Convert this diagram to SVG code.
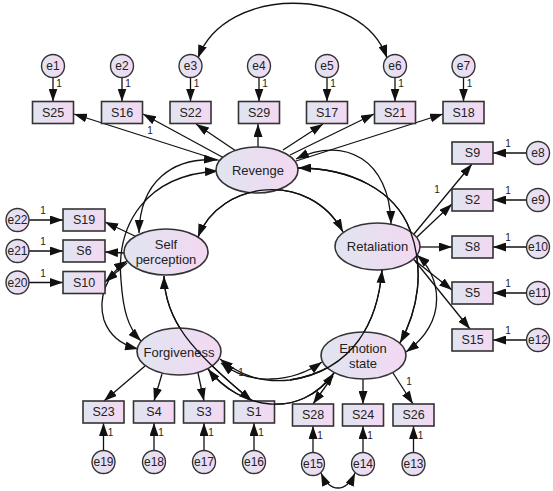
<svg xmlns="http://www.w3.org/2000/svg" width="553" height="491" viewBox="0 0 553 491">
<defs>
<linearGradient id="g" x1="0" y1="0" x2="1" y2="0">
<stop offset="0" stop-color="#e0e5f0"/>
<stop offset="1" stop-color="#f3d8f2"/>
</linearGradient>
<marker id="ah" viewBox="0 0 13 9" refX="13" refY="4.5" markerWidth="13" markerHeight="9" markerUnits="userSpaceOnUse" orient="auto-start-reverse">
<path d="M0,0 L13,4.5 L0,9 z" fill="#111"/>
</marker>
<style>
.box{fill:url(#g);stroke:#333;stroke-width:1.6}
.lat{fill:url(#g);stroke:#333;stroke-width:1.6}
.err{fill:url(#g);stroke:#333;stroke-width:1.4}
.t{font-family:"Liberation Sans",Arial,sans-serif;font-size:12.5px;fill:#222;text-anchor:middle;dominant-baseline:central}
.tl{font-family:"Liberation Sans",Arial,sans-serif;font-size:13px;fill:#222;text-anchor:middle;dominant-baseline:central}
.te{font-family:"Liberation Sans",Arial,sans-serif;font-size:12px;fill:#222;text-anchor:middle;dominant-baseline:central}
.one{font-family:"Liberation Sans",Arial,sans-serif;font-size:10px;fill:#222;text-anchor:middle}
.p{stroke:#111;stroke-width:1.3;fill:none;marker-end:url(#ah)}
.q{stroke:#111;stroke-width:1.3;fill:none}
.c{stroke:#111;stroke-width:1.3;fill:none;marker-start:url(#ah);marker-end:url(#ah)}
</style>
</defs>

<g id="connectors">
<!-- covariances -->
<path class="c" d="M198,58 C225,-15 362,-15 387,58"/>
<path class="c" d="M321,473 C330,493 346,493 355,473"/>
<path class="c" d="M217,160 C172,157 140,182 139,233"/>
<path class="c" d="M218,171 C145,175 116,225 121,280 C123,310 128,328 141,341"/>
<path class="c" d="M127,261 C105,275 98,300 104,320 C110,337 122,345 138,349"/>
<path class="c" d="M198,237 C220,180 310,170 343,232"/>
<path class="c" d="M296,159 C345,135 390,160 391,224"/>
<path class="c" d="M298,168 C350,168 395,190 410,230 C425,270 418,310 400,343"/>
<path class="c" d="M417,255 C440,275 450,320 406,352"/>
<path class="c" d="M382,270 C378,320 355,370 290,380 C260,383 240,375 220,359"/>
<path class="c" d="M221,363 C250,386 292,383 322,362"/>
<path class="c" d="M208,369 C240,410 300,420 334,373"/>
<path class="c" d="M164,276 C165,320 190,350 252,401"/>
<!-- Revenge paths -->
<line class="p" x1="221" y1="161" x2="74" y2="114"/>
<line class="p" x1="224" y1="158" x2="143" y2="114"/>
<line class="p" x1="236" y1="151" x2="196" y2="124"/>
<line class="p" x1="258" y1="147" x2="258" y2="124"/>
<line class="p" x1="283" y1="150" x2="323" y2="124"/>
<line class="p" x1="290" y1="155" x2="374" y2="114"/>
<line class="p" x1="296" y1="161" x2="443" y2="114"/>
<!-- Self perception paths -->
<line class="p" x1="137" y1="237" x2="105" y2="222"/>
<line class="p" x1="124" y1="253" x2="105" y2="252"/>
<line class="p" x1="127" y1="263" x2="105" y2="282"/>
<!-- Retaliation paths -->
<line class="p" x1="414" y1="234" x2="472" y2="164"/>
<line class="p" x1="417" y1="237" x2="452" y2="204"/>
<line class="p" x1="420" y1="247" x2="452" y2="247"/>
<line class="p" x1="413" y1="259" x2="452" y2="290"/>
<line class="p" x1="415" y1="261" x2="470" y2="329"/>
<!-- Forgiveness paths -->
<line class="p" x1="145" y1="366" x2="104" y2="401"/>
<line class="p" x1="162" y1="374" x2="154" y2="401"/>
<line class="p" x1="198" y1="373" x2="204" y2="401"/>
<!-- Emotion state paths -->
<line class="p" x1="333" y1="376" x2="313" y2="404"/>
<line class="p" x1="363" y1="379" x2="363" y2="404"/>
<line class="p" x1="393" y1="373" x2="413" y2="404"/>
<!-- error paths top -->
<line class="p" x1="53" y1="77.5" x2="53" y2="101.5"/>
<line class="p" x1="122" y1="77.5" x2="122" y2="101.5"/>
<line class="p" x1="190.5" y1="77.5" x2="190.5" y2="101.5"/>
<line class="p" x1="259" y1="77.5" x2="259" y2="101.5"/>
<line class="p" x1="327" y1="77.5" x2="327" y2="101.5"/>
<line class="p" x1="395" y1="77.5" x2="395" y2="101.5"/>
<line class="p" x1="463.5" y1="77.5" x2="463.5" y2="101.5"/>
<!-- error paths left -->
<line class="p" x1="29" y1="220" x2="63" y2="220"/>
<line class="p" x1="29" y1="251" x2="63" y2="251"/>
<line class="p" x1="29" y1="282.5" x2="63" y2="282.5"/>
<!-- error paths right -->
<line class="p" x1="526.5" y1="153" x2="493" y2="153"/>
<line class="p" x1="526.5" y1="200" x2="493" y2="200"/>
<line class="p" x1="526.5" y1="247" x2="493" y2="247"/>
<line class="p" x1="526.5" y1="293" x2="493" y2="293"/>
<line class="p" x1="526.5" y1="340" x2="493" y2="340"/>
<!-- error paths bottom -->
<line class="p" x1="103.5" y1="450.5" x2="103.5" y2="423"/>
<line class="p" x1="154" y1="450.5" x2="154" y2="423"/>
<line class="p" x1="204" y1="450.5" x2="204" y2="423"/>
<line class="p" x1="254" y1="450.5" x2="254" y2="423"/>
<line class="p" x1="313" y1="452.5" x2="313" y2="426"/>
<line class="p" x1="363" y1="452.5" x2="363" y2="426"/>
<line class="p" x1="413.5" y1="452.5" x2="413.5" y2="426"/>
<!-- weight labels -->
<text class="one" x="150" y="134">1</text>
<text class="one" x="437" y="193">1</text>
<text class="one" x="241" y="376">1</text>
<text class="one" x="409" y="385">1</text>
<text class="one" x="59" y="87">1</text>
<text class="one" x="128" y="87">1</text>
<text class="one" x="196.5" y="87">1</text>
<text class="one" x="265" y="87">1</text>
<text class="one" x="333" y="87">1</text>
<text class="one" x="401" y="87">1</text>
<text class="one" x="469.5" y="87">1</text>
<text class="one" x="43" y="214">1</text>
<text class="one" x="43" y="245">1</text>
<text class="one" x="43" y="276.5">1</text>
<text class="one" x="508" y="147">1</text>
<text class="one" x="508" y="194">1</text>
<text class="one" x="508" y="241">1</text>
<text class="one" x="508" y="287">1</text>
<text class="one" x="508" y="334">1</text>
<text class="one" x="110.5" y="436">1</text>
<text class="one" x="161" y="436">1</text>
<text class="one" x="211" y="436">1</text>
<text class="one" x="261" y="436">1</text>
<text class="one" x="320" y="439">1</text>
<text class="one" x="370" y="439">1</text>
<text class="one" x="420.5" y="439">1</text>
</g>

<!-- latent variables -->
<g id="Revenge"><ellipse class="lat" cx="257" cy="170" rx="41" ry="23"/><text class="tl" x="258" y="170">Revenge</text></g>
<g id="SelfPerception"><ellipse class="lat" cx="166" cy="252" rx="42" ry="23"/><text class="tl" x="166" y="244">Self</text><text class="tl" x="166" y="259">perception</text></g>
<g id="Retaliation"><ellipse class="lat" cx="377.5" cy="246.5" rx="42.5" ry="23.5"/><text class="tl" x="377.5" y="246.5">Retaliation</text></g>
<g id="Forgiveness"><ellipse class="lat" cx="179" cy="351.5" rx="42" ry="23.5"/><text class="tl" x="179" y="352">Forgiveness</text></g>
<g id="EmotionState"><ellipse class="lat" cx="363.5" cy="355.5" rx="42.5" ry="23.5"/><text class="tl" x="363" y="348.5">Emotion</text><text class="tl" x="363" y="363">state</text></g>

<!-- crossing lines drawn over ellipses -->
<g id="overlay">
<path class="q" d="M198,237 C220,180 310,170 343,232"/>
<path class="q" d="M298,168 C350,168 395,190 410,230 C425,270 418,310 400,343"/>
<path class="q" d="M382,270 C378,320 355,370 290,380"/>
<path class="q" d="M164,276 C165,320 190,350 252,401"/>
</g>

<!-- indicators -->
<g id="S25"><rect class="box" x="32.5" y="101.5" width="41" height="22"/><text class="t" x="53" y="112.5">S25</text></g>
<g id="S16"><rect class="box" x="101.5" y="101.5" width="41" height="22"/><text class="t" x="122" y="112.5">S16</text></g>
<g id="S22"><rect class="box" x="170" y="101.5" width="41" height="22"/><text class="t" x="190.5" y="112.5">S22</text></g>
<g id="S29"><rect class="box" x="238.5" y="101.5" width="41" height="22"/><text class="t" x="259" y="112.5">S29</text></g>
<g id="S17"><rect class="box" x="306.5" y="101.5" width="41" height="22"/><text class="t" x="327" y="112.5">S17</text></g>
<g id="S21"><rect class="box" x="374.5" y="101.5" width="41" height="22"/><text class="t" x="395" y="112.5">S21</text></g>
<g id="S18"><rect class="box" x="443" y="101.5" width="41" height="22"/><text class="t" x="463.5" y="112.5">S18</text></g>

<g id="S19"><rect class="box" x="63" y="209" width="42" height="22"/><text class="t" x="84" y="220">S19</text></g>
<g id="S6"><rect class="box" x="63" y="240" width="42" height="22"/><text class="t" x="84" y="251">S6</text></g>
<g id="S10"><rect class="box" x="63" y="271.5" width="42" height="22"/><text class="t" x="84" y="282.5">S10</text></g>

<g id="S9"><rect class="box" x="452" y="142" width="41" height="22"/><text class="t" x="472.5" y="153">S9</text></g>
<g id="S2"><rect class="box" x="452" y="189" width="41" height="22"/><text class="t" x="472.5" y="200">S2</text></g>
<g id="S8"><rect class="box" x="452" y="236" width="41" height="22"/><text class="t" x="472.5" y="247">S8</text></g>
<g id="S5"><rect class="box" x="452" y="282" width="41" height="22"/><text class="t" x="472.5" y="293">S5</text></g>
<g id="S15"><rect class="box" x="452" y="329" width="41" height="22"/><text class="t" x="472.5" y="340">S15</text></g>

<g id="S23"><rect class="box" x="83" y="401" width="41" height="22"/><text class="t" x="103.5" y="412">S23</text></g>
<g id="S4"><rect class="box" x="133.5" y="401" width="41" height="22"/><text class="t" x="154" y="412">S4</text></g>
<g id="S3"><rect class="box" x="183.5" y="401" width="41" height="22"/><text class="t" x="204" y="412">S3</text></g>
<g id="S1"><rect class="box" x="233.5" y="401" width="41" height="22"/><text class="t" x="254" y="412">S1</text></g>
<g id="S28"><rect class="box" x="292.5" y="404" width="41" height="22"/><text class="t" x="313" y="415">S28</text></g>
<g id="S24"><rect class="box" x="342.5" y="404" width="41" height="22"/><text class="t" x="363" y="415">S24</text></g>
<g id="S26"><rect class="box" x="393" y="404" width="41" height="22"/><text class="t" x="413.5" y="415">S26</text></g>

<!-- curve crossing S1 box -->
<path class="q" d="M208,369 C240,410 300,420 334,373"/>

<!-- error terms -->
<g id="e1"><circle class="err" cx="53" cy="66" r="11.5"/><text class="te" x="53" y="66">e1</text></g>
<g id="e2"><circle class="err" cx="122" cy="66" r="11.5"/><text class="te" x="122" y="66">e2</text></g>
<g id="e3"><circle class="err" cx="190.5" cy="66" r="11.5"/><text class="te" x="190.5" y="66">e3</text></g>
<g id="e4"><circle class="err" cx="259" cy="66" r="11.5"/><text class="te" x="259" y="66">e4</text></g>
<g id="e5"><circle class="err" cx="327" cy="66" r="11.5"/><text class="te" x="327" y="66">e5</text></g>
<g id="e6"><circle class="err" cx="395" cy="66" r="11.5"/><text class="te" x="395" y="66">e6</text></g>
<g id="e7"><circle class="err" cx="463.5" cy="66" r="11.5"/><text class="te" x="463.5" y="66">e7</text></g>

<g id="e22"><circle class="err" cx="17.5" cy="220" r="11.5"/><text class="te" x="17.5" y="220">e22</text></g>
<g id="e21"><circle class="err" cx="17.5" cy="251" r="11.5"/><text class="te" x="17.5" y="251">e21</text></g>
<g id="e20"><circle class="err" cx="17.5" cy="282.5" r="11.5"/><text class="te" x="17.5" y="282.5">e20</text></g>

<g id="e8"><circle class="err" cx="538" cy="153" r="11.5"/><text class="te" x="538" y="153">e8</text></g>
<g id="e9"><circle class="err" cx="538" cy="200" r="11.5"/><text class="te" x="538" y="200">e9</text></g>
<g id="e10"><circle class="err" cx="538" cy="247" r="11.5"/><text class="te" x="538" y="247">e10</text></g>
<g id="e11"><circle class="err" cx="538" cy="293" r="11.5"/><text class="te" x="538" y="293">e11</text></g>
<g id="e12"><circle class="err" cx="538" cy="340" r="11.5"/><text class="te" x="538" y="340">e12</text></g>

<g id="e19"><circle class="err" cx="103.5" cy="462" r="11.5"/><text class="te" x="103.5" y="462">e19</text></g>
<g id="e18"><circle class="err" cx="154" cy="462" r="11.5"/><text class="te" x="154" y="462">e18</text></g>
<g id="e17"><circle class="err" cx="204" cy="462" r="11.5"/><text class="te" x="204" y="462">e17</text></g>
<g id="e16"><circle class="err" cx="254" cy="462" r="11.5"/><text class="te" x="254" y="462">e16</text></g>
<g id="e15"><circle class="err" cx="313" cy="464" r="11.5"/><text class="te" x="313" y="464">e15</text></g>
<g id="e14"><circle class="err" cx="363" cy="464" r="11.5"/><text class="te" x="363" y="464">e14</text></g>
<g id="e13"><circle class="err" cx="413.5" cy="464" r="11.5"/><text class="te" x="413.5" y="464">e13</text></g>
</svg>
